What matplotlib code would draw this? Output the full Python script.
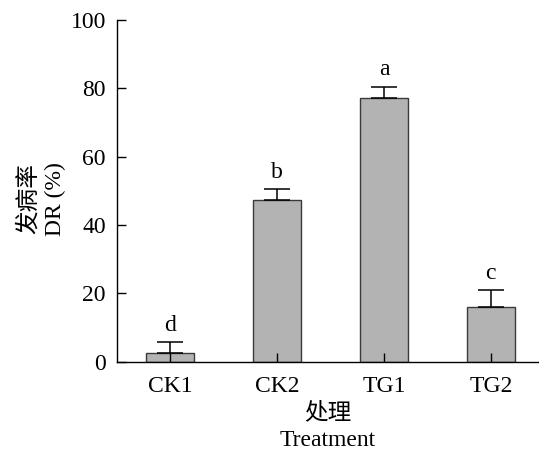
import matplotlib
matplotlib.use("Agg")
import matplotlib.pyplot as plt
import numpy as np

FONT = ["Liberation Serif", "Noto Sans CJK SC"]
plt.rcParams["font.family"] = FONT

# data
groups = ["CK1", "CK2", "TG1", "TG2"]
dr_mean = [2.5, 47.3, 77.3, 15.9]
dr_err = [3.2, 3.2, 3.2, 5.1]
letters = ["d", "b", "a", "c"]

fig = plt.figure(figsize=(5.39, 4.54), dpi=100)
ax = fig.add_axes([0.217, 0.2033, 0.783, 0.7527])

x = np.arange(len(groups))
ax.bar(x, dr_mean, width=0.45, color="#b3b3b3", edgecolor="#3a3a3a",
       linewidth=1.0, zorder=2)
ax.errorbar(x, dr_mean, yerr=[np.zeros(len(dr_err)), dr_err], fmt="none",
            ecolor="black", elinewidth=1.1, capsize=9.5, capthick=1.1, zorder=3)

for xi, m, e, lab in zip(x, dr_mean, dr_err, letters):
    ax.text(xi, m + e + 1.8, lab, ha="center", va="bottom", fontsize=17,
            family=FONT)

ax.set_axisbelow(False)
ax.set_xlim(-0.495, 3.45)
ax.set_ylim(0, 100)
ax.set_yticks([0, 20, 40, 60, 80, 100])
ax.set_xticks(x)
ax.set_xticklabels(groups)

for s in ["top", "right"]:
    ax.spines[s].set_visible(False)
for s in ["left", "bottom"]:
    ax.spines[s].set_linewidth(1.0)

ax.tick_params(axis="both", direction="in", length=6.5, width=1.0,
               labelsize=17)
ax.tick_params(axis="y", pad=8)
ax.tick_params(axis="x", pad=10)

ax.set_ylabel("发病率\nDR (%)", fontsize=17, linespacing=1.3)
ax.yaxis.set_label_coords(-0.121, 0.476)
ax.set_xlabel("处理\nTreatment", fontsize=17, linespacing=1.4, labelpad=4)

fig.savefig("out.png", dpi=100)
